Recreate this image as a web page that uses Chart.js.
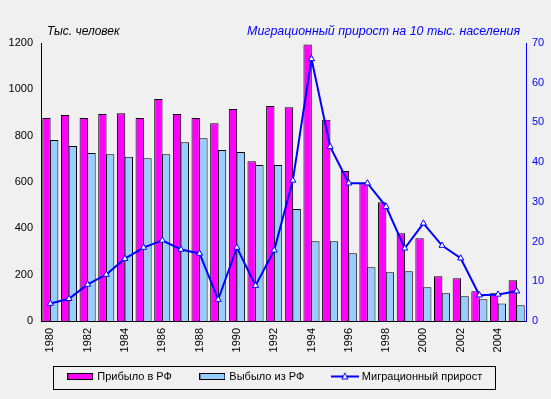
<!DOCTYPE html>
<html>
<head>
<meta charset="utf-8">
<script src="https://cdn.jsdelivr.net/npm/chart.js@4/dist/chart.umd.min.js"></script>
<style>
  html, body { margin: 0; padding: 0; background: #f0f0f0; }
  #wrap { width: 551px; height: 399px; }
</style>
</head>
<body>
<div id="wrap"><canvas id="myChart" width="551" height="399"></canvas></div>
<script>
var years = ['1980', '1981', '1982', '1983', '1984', '1985', '1986', '1987', '1988', '1989',
  '1990', '1991', '1992', '1993', '1994', '1995', '1996', '1997', '1998', '1999',
  '2000', '2001', '2002', '2003', '2004', '2005']
// тыс. человек
var arrived = [876, 889, 876, 893, 897, 876, 958, 893, 876, 854, 915, 690, 928, 923, 1193,
  869, 647, 595, 513, 379, 357, 193, 184, 128, 120, 176]
var departed = [781, 755, 725, 720, 709, 703, 720, 772, 789, 738, 729, 673, 673, 483, 344,
  344, 292, 232, 210, 215, 146, 120, 107, 94, 76, 68]
// на 10 тыс. населения
var growth = [4.4, 5.6, 9.2, 11.7, 15.7, 18.5, 20.3, 18.0, 17.0, 5.4, 18.5, 8.9, 17.8, 35.4, 66.0,
  43.9, 34.7, 34.7, 28.8, 18.3, 24.6, 19.0, 15.8, 6.5, 6.7, 7.5]
var leftTicks = [0, 200, 400, 600, 800, 1000, 1200]
var rightTicks = [0, 10, 20, 30, 40, 50, 60, 70]

var FONT = 'Arial, "Liberation Sans", sans-serif'
var MAGENTA = '#ff00ff'
var SKY = '#99ccff'
var BLUE = '#0000ff'

// little pictures for the legend
function barSymbol(color) {
  var c = document.createElement('canvas')
  c.width = 26; c.height = 7
  var x = c.getContext('2d')
  x.fillStyle = color
  x.fillRect(0, 0, 26, 7)
  x.strokeStyle = '#000'
  x.lineWidth = 1
  x.strokeRect(0.5, 0.5, 25, 6)
  return c
}
function lineSymbol() {
  var c = document.createElement('canvas')
  c.width = 28; c.height = 10
  var x = c.getContext('2d')
  x.strokeStyle = BLUE
  x.lineWidth = 2
  x.beginPath(); x.moveTo(0, 5); x.lineTo(28, 5); x.stroke()
  x.fillStyle = '#fff'
  x.lineWidth = 1
  x.beginPath(); x.moveTo(14, 1.5); x.lineTo(17, 7.5); x.lineTo(11, 7.5); x.closePath()
  x.fill(); x.stroke()
  return c
}

var headers = {
  id: 'headers',
  afterLayout: function(chart) {
    // pull the legend up under the year labels
    var lg = chart.legend
    lg.top -= 13
    lg.bottom -= 13
  },
  afterDraw: function(chart) {
    var ctx = chart.ctx, a = chart.chartArea
    ctx.save()
    ctx.textBaseline = 'middle'
    ctx.font = 'italic 12px ' + FONT
    ctx.fillStyle = '#000'
    ctx.textAlign = 'left'
    ctx.fillText('Тыс. человек', a.left + 6, a.top - 11)
    ctx.font = 'italic 12.4px ' + FONT
    ctx.fillStyle = BLUE
    ctx.textAlign = 'right'
    ctx.fillText('Миграционный прирост на 10 тыс. населения', a.right - 6, a.top - 11)
    // frame round the legend
    var hb = chart.legend.legendHitBoxes
    if (hb && hb.length) {
      var f = hb[0], l = hb[hb.length - 1]
      ctx.strokeStyle = '#000'
      ctx.lineWidth = 1
      var x0 = Math.round(f.left - 16) + 0.5
      var x1 = Math.round(l.left + l.width + 13) + 0.5
      var y0 = Math.round(f.top - 5) + 0.5
      var y1 = Math.round(f.top + f.height + 7) + 0.5
      ctx.strokeRect(x0, y0, x1 - x0, y1 - y0)
    }
    ctx.restore()
  }
}

document.addEventListener('DOMContentLoaded', function() {
  var ctx = document.getElementById('myChart').getContext('2d')
  var symbols = [barSymbol(MAGENTA), barSymbol(SKY), lineSymbol()]
  new Chart(ctx, {
    data: {
      labels: years,
      datasets: [{
        type: 'line',
        label: 'Миграционный прирост',
        data: growth,
        yAxisID: 'y1',
        order: 0,
        borderColor: BLUE,
        borderWidth: 2,
        tension: 0,
        pointStyle: 'triangle',
        pointRadius: 3.5,
        pointBackgroundColor: '#fff',
        pointBorderColor: BLUE,
        pointBorderWidth: 1
      }, {
        type: 'bar',
        label: 'Прибыло в РФ',
        data: arrived,
        yAxisID: 'y',
        order: 1,
        backgroundColor: MAGENTA,
        borderColor: '#000',
        borderWidth: 1,
        categoryPercentage: 0.83,
        barPercentage: 1.08
      }, {
        type: 'bar',
        label: 'Выбыло из РФ',
        data: departed,
        yAxisID: 'y',
        order: 2,
        backgroundColor: SKY,
        borderColor: '#000',
        borderWidth: 1,
        categoryPercentage: 0.83,
        barPercentage: 1.08
      }]
    },
    options: {
      responsive: false,
      animation: false,
      layout: { padding: { left: 0, right: 0, top: 43, bottom: 0 } },
      plugins: {
        tooltip: { enabled: false },
        title: { display: false },
        legend: {
          position: 'bottom',
          align: 'center',
          maxHeight: 44,
          labels: {
            usePointStyle: true,
            pointStyleWidth: 23,
            padding: 29,
            color: '#000',
            font: { family: FONT, size: 11 },
            generateLabels: function(chart) {
              var order = [1, 2, 0]
              return order.map(function(i, k) {
                return {
                  text: chart.data.datasets[i].label,
                  pointStyle: symbols[k],
                  datasetIndex: i,
                  hidden: false,
                  fontColor: '#000',
                  lineWidth: 0
                }
              })
            }
          }
        }
      },
      scales: {
        x: {
          grid: { display: false, drawTicks: false },
          border: { display: true, color: '#000', width: 1 },
          afterFit: function(s) { s.height = 34 },
          ticks: {
            autoSkip: false,
            maxRotation: 90,
            minRotation: 90,
            padding: 7,
            color: '#000',
            font: { family: FONT, size: 11 },
            callback: function(v, i) { return i % 2 === 0 ? years[i] : '' }
          }
        },
        y: {
          position: 'left',
          min: 0,
          max: 1200,
          grid: { display: false, drawTicks: false },
          border: { display: true, color: '#000', width: 1 },
          afterFit: function(s) { s.width = 41 },
          afterBuildTicks: function(s) { s.ticks = leftTicks.map(function(v) { return { value: v } }) },
          ticks: {
            padding: 8, color: '#000', font: { family: FONT, size: 11 },
            callback: function(v) { return String(v) }
          }
        },
        y1: {
          position: 'right',
          min: 0,
          max: 70,
          grid: { display: false, drawTicks: false },
          border: { display: true, color: BLUE, width: 1 },
          afterFit: function(s) { s.width = 25 },
          afterBuildTicks: function(s) { s.ticks = rightTicks.map(function(v) { return { value: v } }) },
          ticks: {
            padding: 6, color: BLUE, font: { family: FONT, size: 11 },
            callback: function(v) { return String(v) }
          }
        }
      }
    },
    plugins: [headers]
  })
})
</script>
</body>
</html>
